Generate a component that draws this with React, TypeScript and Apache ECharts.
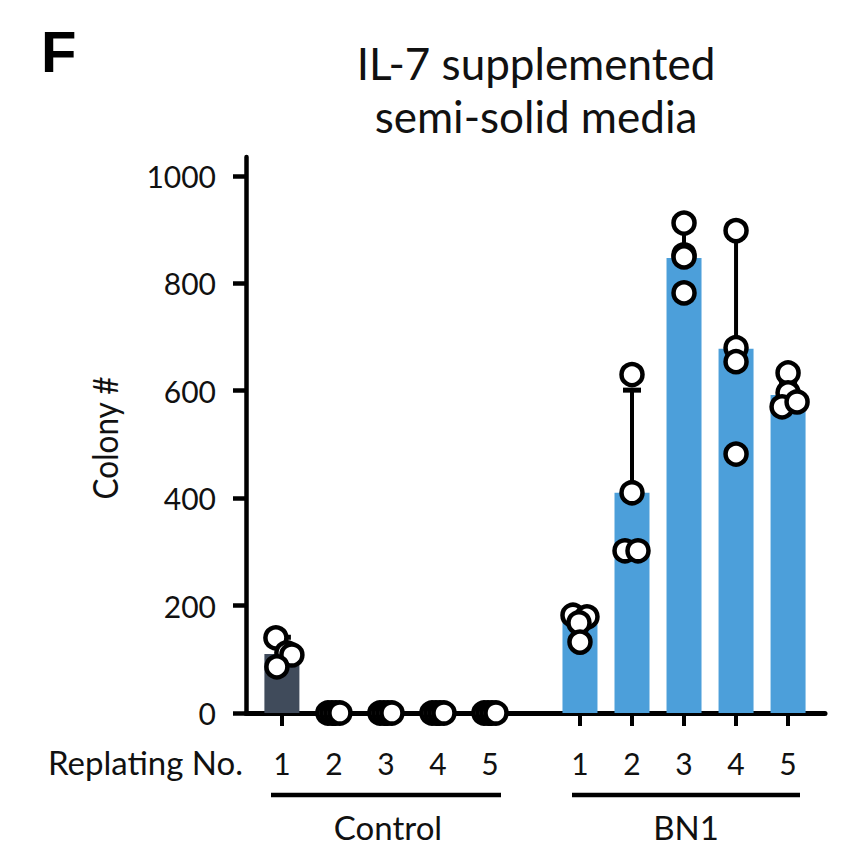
import React, { useEffect, useRef } from "react";
import * as echarts from "echarts";

// ---- data ----
const replating = ["1", "2", "3", "4", "5"];
const groups = ["Control", "BN1"];
const controlMeans = [110, 0, 0, 0, 0];
const bn1Means = [168, 410, 847, 678, 592];
const controlUpper = [141, 0, 0, 0, 0];
const bn1Upper = [190, 601, 900, 885, 615];
const controlPoints = [
  [140, 112, 108, 86],
  [0, 0, 0, 0],
  [0, 0, 0, 0],
  [0, 0, 0, 0],
  [0, 0, 0, 0],
];
const bn1Points = [
  [182, 179, 168, 132],
  [630, 410, 302, 302],
  [912, 853, 849, 782],
  [898, 680, 654, 482],
  [633, 596, 570, 579],
];
const yTicks = [0, 200, 400, 600, 800, 1000];

// ---- layout ----
const controlJitter = [
  [-6, 5, 10, -5],
  [-6, -2, 2, 6],
  [-6, -2, 2, 6],
  [-6, -2, 2, 6],
  [-6, -2, 2, 6],
];
const bn1Jitter = [
  [-7, 7, -1, 0],
  [0, 0, -7, 6],
  [0, 0, 0, 0],
  [0, 0, 0, 0],
  [0, 0, -6, 9],
];
const GROUP_SHIFT = 5.73;
const X_MIN = 0.31;
const X_MAX = 11.44;
const CONTROL_COLOR = "#404b5b";
const BN1_COLOR = "#4c9fda";
const FONT = "Lato";

export default function App() {
  const ref = useRef<HTMLDivElement>(null);
  useEffect(() => {
    if (!ref.current) return;
    const chart = echarts.init(ref.current, undefined, { renderer: "svg" });

    const controlX = replating.map((_, i) => i + 1);
    const bn1X = replating.map((_, i) => i + 1 + GROUP_SHIFT);
    const allX = [...controlX, ...bn1X];
    const allLabels = [...replating, ...replating];

    const barData = [
      ...controlMeans.map((v, i) => ({ value: [controlX[i], v], itemStyle: { color: CONTROL_COLOR } })),
      ...bn1Means.map((v, i) => ({ value: [bn1X[i], v], itemStyle: { color: BN1_COLOR } })),
    ];
    const errData = [
      ...controlMeans.map((v, i) => [controlX[i], v, controlUpper[i]]),
      ...bn1Means.map((v, i) => [bn1X[i], v, bn1Upper[i]]),
    ].filter((d) => d[2] > d[1]);
    const pts: any[] = [];
    controlPoints.forEach((arr, i) =>
      arr.forEach((v, j) => pts.push({ value: [controlX[i], v], symbolOffset: [controlJitter[i][j], 0] }))
    );
    bn1Points.forEach((arr, i) =>
      arr.forEach((v, j) => pts.push({ value: [bn1X[i], v], symbolOffset: [bn1Jitter[i][j], 0] }))
    );

    chart.setOption({
      animation: false,
      grid: { left: 246, right: 29, top: 157, bottom: 149 },
      xAxis: {
        type: "value",
        min: X_MIN,
        max: X_MAX,
        splitLine: { show: false },
        axisLine: { show: true, lineStyle: { color: "#000", width: 5 } },
        axisTick: { show: true, customValues: allX, length: 13, lineStyle: { color: "#000", width: 4 } },
        axisLabel: {
          customValues: allX,
          margin: 35,
          fontFamily: FONT,
          fontSize: 30,
          color: "#111",
          formatter: (v: number) => {
            const k = allX.findIndex((x) => Math.abs(x - v) < 1e-6);
            return k >= 0 ? allLabels[k] : "";
          },
        },
      },
      yAxis: {
        type: "value",
        min: 0,
        max: 1035,
        splitLine: { show: false },
        axisLine: { show: true, lineStyle: { color: "#000", width: 4.5 } },
        axisTick: { show: true, customValues: yTicks, length: 13, lineStyle: { color: "#000", width: 4.5 } },
        axisLabel: {
          customValues: yTicks,
          margin: 30,
          fontFamily: FONT,
          fontSize: 30,
          color: "#111",
          formatter: (v: number) => String(v),
        },
      },
      series: [
        { type: "bar", data: barData, barWidth: 35, z: 2 },
        {
          type: "custom",
          z: 3,
          data: errData,
          renderItem: (params: any, api: any) => {
            const x = api.value(0);
            const p0 = api.coord([x, api.value(1)]);
            const p1 = api.coord([x, api.value(2)]);
            return {
              type: "group",
              children: [
                { type: "line", shape: { x1: p0[0], y1: p0[1], x2: p1[0], y2: p1[1] }, style: { stroke: "#000", lineWidth: 4 } },
                { type: "line", shape: { x1: p1[0] - 9, y1: p1[1], x2: p1[0] + 9, y2: p1[1] }, style: { stroke: "#000", lineWidth: 5 } },
              ],
            };
          },
        },
        {
          type: "scatter",
          z: 4,
          clip: false,
          symbol: "circle",
          symbolSize: 21,
          itemStyle: { color: "#fff", borderColor: "#000", borderWidth: 4.5, opacity: 1 },
          data: pts,
        },
      ],
      graphic: [
        { type: "text", x: 41, y: 51, style: { text: "F", font: "bold 58px 'Liberation Sans'", fill: "#000", verticalAlign: "middle" } },
        { type: "text", x: 536, y: 63, style: { text: "IL-7 supplemented", fontFamily: FONT, fontSize: 44, fill: "#111", align: "center", verticalAlign: "middle" } },
        { type: "text", x: 536, y: 116, style: { text: "semi-solid media", fontFamily: FONT, fontSize: 44, fill: "#111", align: "center", verticalAlign: "middle" } },
        { type: "text", x: 104, y: 438, rotation: Math.PI / 2, scaleX: 0.9, style: { text: "Colony #", fontFamily: FONT, fontSize: 35, fill: "#111", align: "center", verticalAlign: "middle" } },
        { type: "text", x: 243, y: 762, style: { text: "Replating No.", fontFamily: FONT, fontSize: 33, fill: "#111", align: "right", verticalAlign: "middle" } },
        { type: "line", shape: { x1: 271, y1: 795, x2: 501, y2: 795 }, style: { stroke: "#000", lineWidth: 4.5 } },
        { type: "line", shape: { x1: 572, y1: 795, x2: 800, y2: 795 }, style: { stroke: "#000", lineWidth: 4.5 } },
        { type: "text", x: 388, y: 827, style: { text: groups[0], fontFamily: FONT, fontSize: 33, fill: "#111", align: "center", verticalAlign: "middle" } },
        { type: "text", x: 686, y: 827, style: { text: groups[1], fontFamily: FONT, fontSize: 33, fill: "#111", align: "center", verticalAlign: "middle" } },
      ],
    });
    return () => chart.dispose();
  }, []);
  return <div ref={ref} style={{ position: "absolute", left: 0, top: 0, width: 854, height: 862 }} />;
}
